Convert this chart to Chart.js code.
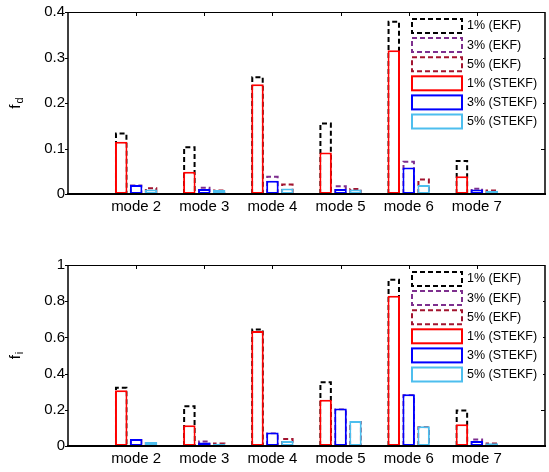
<!DOCTYPE html>
<html>
<head>
<meta charset="utf-8">
<script src="https://cdn.jsdelivr.net/npm/chart.js@4"></script>
<style>
  html, body { margin: 0; padding: 0; background: #fff; }
  #wrap { width: 549px; height: 472px; }
  canvas { display: block; }
</style>
</head>
<body>
<div id="wrap">
  <canvas id="fdChart" width="549" height="236"></canvas>
  <canvas id="fiChart" width="549" height="236"></canvas>
</div>
<script>
// chart data
const categories = ['mode 2', 'mode 3', 'mode 4', 'mode 5', 'mode 6', 'mode 7'];
const seriesLabels = ['1% (EKF)', '3% (EKF)', '5% (EKF)', '1% (STEKF)', '3% (STEKF)', '5% (STEKF)'];

const fdEkf1 = [0.135, 0.105, 0.259, 0.157, 0.381, 0.075];
const fdEkf3 = [0.021, 0.016, 0.040, 0.019, 0.073, 0.014];
const fdEkf5 = [0.015, 0.010, 0.023, 0.013, 0.034, 0.010];
const fdStekf1 = [0.115, 0.049, 0.241, 0.091, 0.316, 0.039];
const fdStekf3 = [0.020, 0.011, 0.029, 0.011, 0.058, 0.010];
const fdStekf5 = [0.010, 0.009, 0.012, 0.010, 0.020, 0.007];

const fiEkf1 = [0.327, 0.225, 0.649, 0.358, 0.924, 0.201];
const fiEkf3 = [0.039, 0.030, 0.074, 0.207, 0.286, 0.041];
const fiEkf5 = [0.022, 0.019, 0.044, 0.138, 0.109, 0.020];
const fiStekf1 = [0.308, 0.114, 0.635, 0.256, 0.830, 0.120];
const fiStekf3 = [0.039, 0.020, 0.074, 0.207, 0.286, 0.028];
const fiStekf5 = [0.022, 0.013, 0.028, 0.138, 0.109, 0.015];

const fdTicks = [0, 0.1, 0.2, 0.3, 0.4];
const fiTicks = [0, 0.2, 0.4, 0.6, 0.8, 1];

const colors = ['#000000', '#7E2F8E', '#A2142F', '#FF0000', '#0000FF', '#4DBEEE'];
const FONT = '"Liberation Sans", Arial, sans-serif';

Chart.defaults.font.family = FONT;
Chart.defaults.color = '#000';

// x axis runs from 1 to 8, modes sit on 2..7
const pad = arr => [null, ...arr, null];
const xLabels = ['', ...categories, ''];

// EKF bars are dashed outlines, Chart.js bars can't dash so stroke them here
const dashedBars = {
  id: 'dashedBars',
  beforeDatasetsDraw(chart) {
    const ctx = chart.ctx;
    ctx.save();
    ctx.lineWidth = 2;
    ctx.setLineDash([5, 3]);
    chart.data.datasets.forEach((ds, i) => {
      if (!ds.dashed) return;
      ctx.strokeStyle = ds.lineColor;
      chart.getDatasetMeta(i).data.forEach((bar, j) => {
        if (ds.data[j] == null) return;
        const { x, y, base, width } = bar.getProps(['x', 'y', 'base', 'width'], true);
        const l = x - width / 2 + 1, r = x + width / 2 - 1, t = y + 1;
        ctx.beginPath();
        ctx.moveTo(l, base);
        ctx.lineTo(l, t);
        ctx.lineTo(r, t);
        ctx.lineTo(r, base);
        ctx.stroke();
      });
    });
    ctx.restore();
  }
};

// box, ticks, legend and the subscripted y title
const frame = {
  id: 'frame',
  afterDraw(chart, args, opts) {
    const { ctx, chartArea: a, scales: { x, y } } = chart;
    ctx.save();
    ctx.setLineDash([]);
    ctx.strokeStyle = '#000';

    ctx.lineWidth = 1;
    ctx.beginPath();
    for (let i = 1; i <= categories.length; i++) {
      const px = Math.round(x.getPixelForValue(i)) + 0.5;
      ctx.moveTo(px, a.top); ctx.lineTo(px, a.top + 4);
    }
    y.ticks.forEach(t => {
      const py = Math.round(y.getPixelForValue(t.value)) + 0.5;
      ctx.moveTo(a.left - 3, py); ctx.lineTo(a.left, py);
      ctx.moveTo(a.right, py); ctx.lineTo(a.right - 4, py);
    });
    ctx.stroke();

    // legend
    const lx = a.right - 133, tx = a.right - 78;
    ctx.fillStyle = '#fff';
    ctx.fillRect(a.right - 139, a.top + 5, 137, 117);
    ctx.lineWidth = 2;
    ctx.font = '12.5px ' + FONT;
    ctx.textBaseline = 'middle';
    ctx.textAlign = 'left';
    chart.data.datasets.forEach((ds, i) => {
      const cy = a.top + 14 + i * 19.1;
      ctx.setLineDash(ds.dashed ? [5, 3] : []);
      ctx.strokeStyle = ds.lineColor;
      ctx.strokeRect(lx, cy - 7, 50, 14);
      ctx.fillStyle = '#000';
      ctx.fillText(ds.label, tx, cy);
    });
    ctx.setLineDash([]);

    // axes box
    ctx.strokeStyle = '#000';
    ctx.lineWidth = 1;
    ctx.beginPath();
    ctx.moveTo(a.left, a.top + 0.5);
    ctx.lineTo(a.right, a.top + 0.5);
    ctx.stroke();
    ctx.lineWidth = 1.5;
    ctx.beginPath();
    ctx.moveTo(a.left, a.top);
    ctx.lineTo(a.left, a.bottom);
    ctx.moveTo(a.right, a.top);
    ctx.lineTo(a.right, a.bottom);
    ctx.stroke();
    ctx.lineWidth = 2;
    ctx.beginPath();
    ctx.moveTo(a.left - 1, a.bottom);
    ctx.lineTo(a.right + 1, a.bottom);
    ctx.stroke();

    // y title, rotated, with subscript
    const cy = (a.top + a.bottom) / 2;
    ctx.translate(20, cy);
    ctx.rotate(-Math.PI / 2);
    ctx.fillStyle = '#000';
    ctx.textBaseline = 'alphabetic';
    ctx.font = '15px ' + FONT;
    const w1 = ctx.measureText(opts.main).width;
    ctx.font = '11px ' + FONT;
    const w2 = ctx.measureText(opts.sub).width;
    const sx = -(w1 + w2 + 1) / 2;
    ctx.font = '15px ' + FONT;
    ctx.fillText(opts.main, sx, 0);
    ctx.font = '11px ' + FONT;
    ctx.fillText(opts.sub, sx + w1 + 1, 3);
    ctx.restore();
  }
};

function makeChart(id, series, yMax, yTicks, sub, padTop, xHeight) {
  const datasets = series.map((vals, i) => {
    const dashed = i < 3;
    return {
      label: seriesLabels[i],
      data: pad(vals),
      stack: 'p' + (i % 3),
      dashed,
      lineColor: colors[i],
      backgroundColor: dashed ? 'rgba(0,0,0,0)' : '#fff',
      borderColor: colors[i],
      borderWidth: dashed ? 0 : 2,
      borderSkipped: false,
      categoryPercentage: 45 / (479 / 7),
      barPercentage: 0.833
    };
  });

  return new Chart(document.getElementById(id), {
    type: 'bar',
    data: { labels: xLabels, datasets },
    plugins: [dashedBars, frame],
    options: {
      responsive: false,
      animation: false,
      devicePixelRatio: 1,
      layout: { padding: { left: 0, right: 2, top: padTop, bottom: 0 } },
      plugins: {
        legend: { display: false },
        tooltip: { enabled: false },
        frame: { main: 'f', sub: sub }
      },
      scales: {
        x: {
          offset: false,
          grid: { display: false, drawTicks: false },
          border: { display: false },
          ticks: { font: { size: 15 }, padding: 4, maxRotation: 0, autoSkip: false },
          afterFit: s => { s.height = xHeight; }
        },
        y: {
          stacked: false,
          min: 0,
          max: yMax,
          grid: { display: false, drawTicks: false },
          border: { display: false },
          afterBuildTicks: s => { s.ticks = yTicks.map(v => ({ value: v })); },
          ticks: { font: { size: 15 }, padding: 3, callback: v => String(v) },
          afterFit: s => { s.width = 68; }
        }
      }
    }
  });
}

document.addEventListener('DOMContentLoaded', () => {
  makeChart('fdChart', [fdEkf1, fdEkf3, fdEkf5, fdStekf1, fdStekf3, fdStekf5], 0.4, fdTicks, 'd', 12, 42);
  makeChart('fiChart', [fiEkf1, fiEkf3, fiEkf5, fiStekf1, fiStekf3, fiStekf5], 1, fiTicks, 'i', 29, 26);
});
</script>
</body>
</html>
